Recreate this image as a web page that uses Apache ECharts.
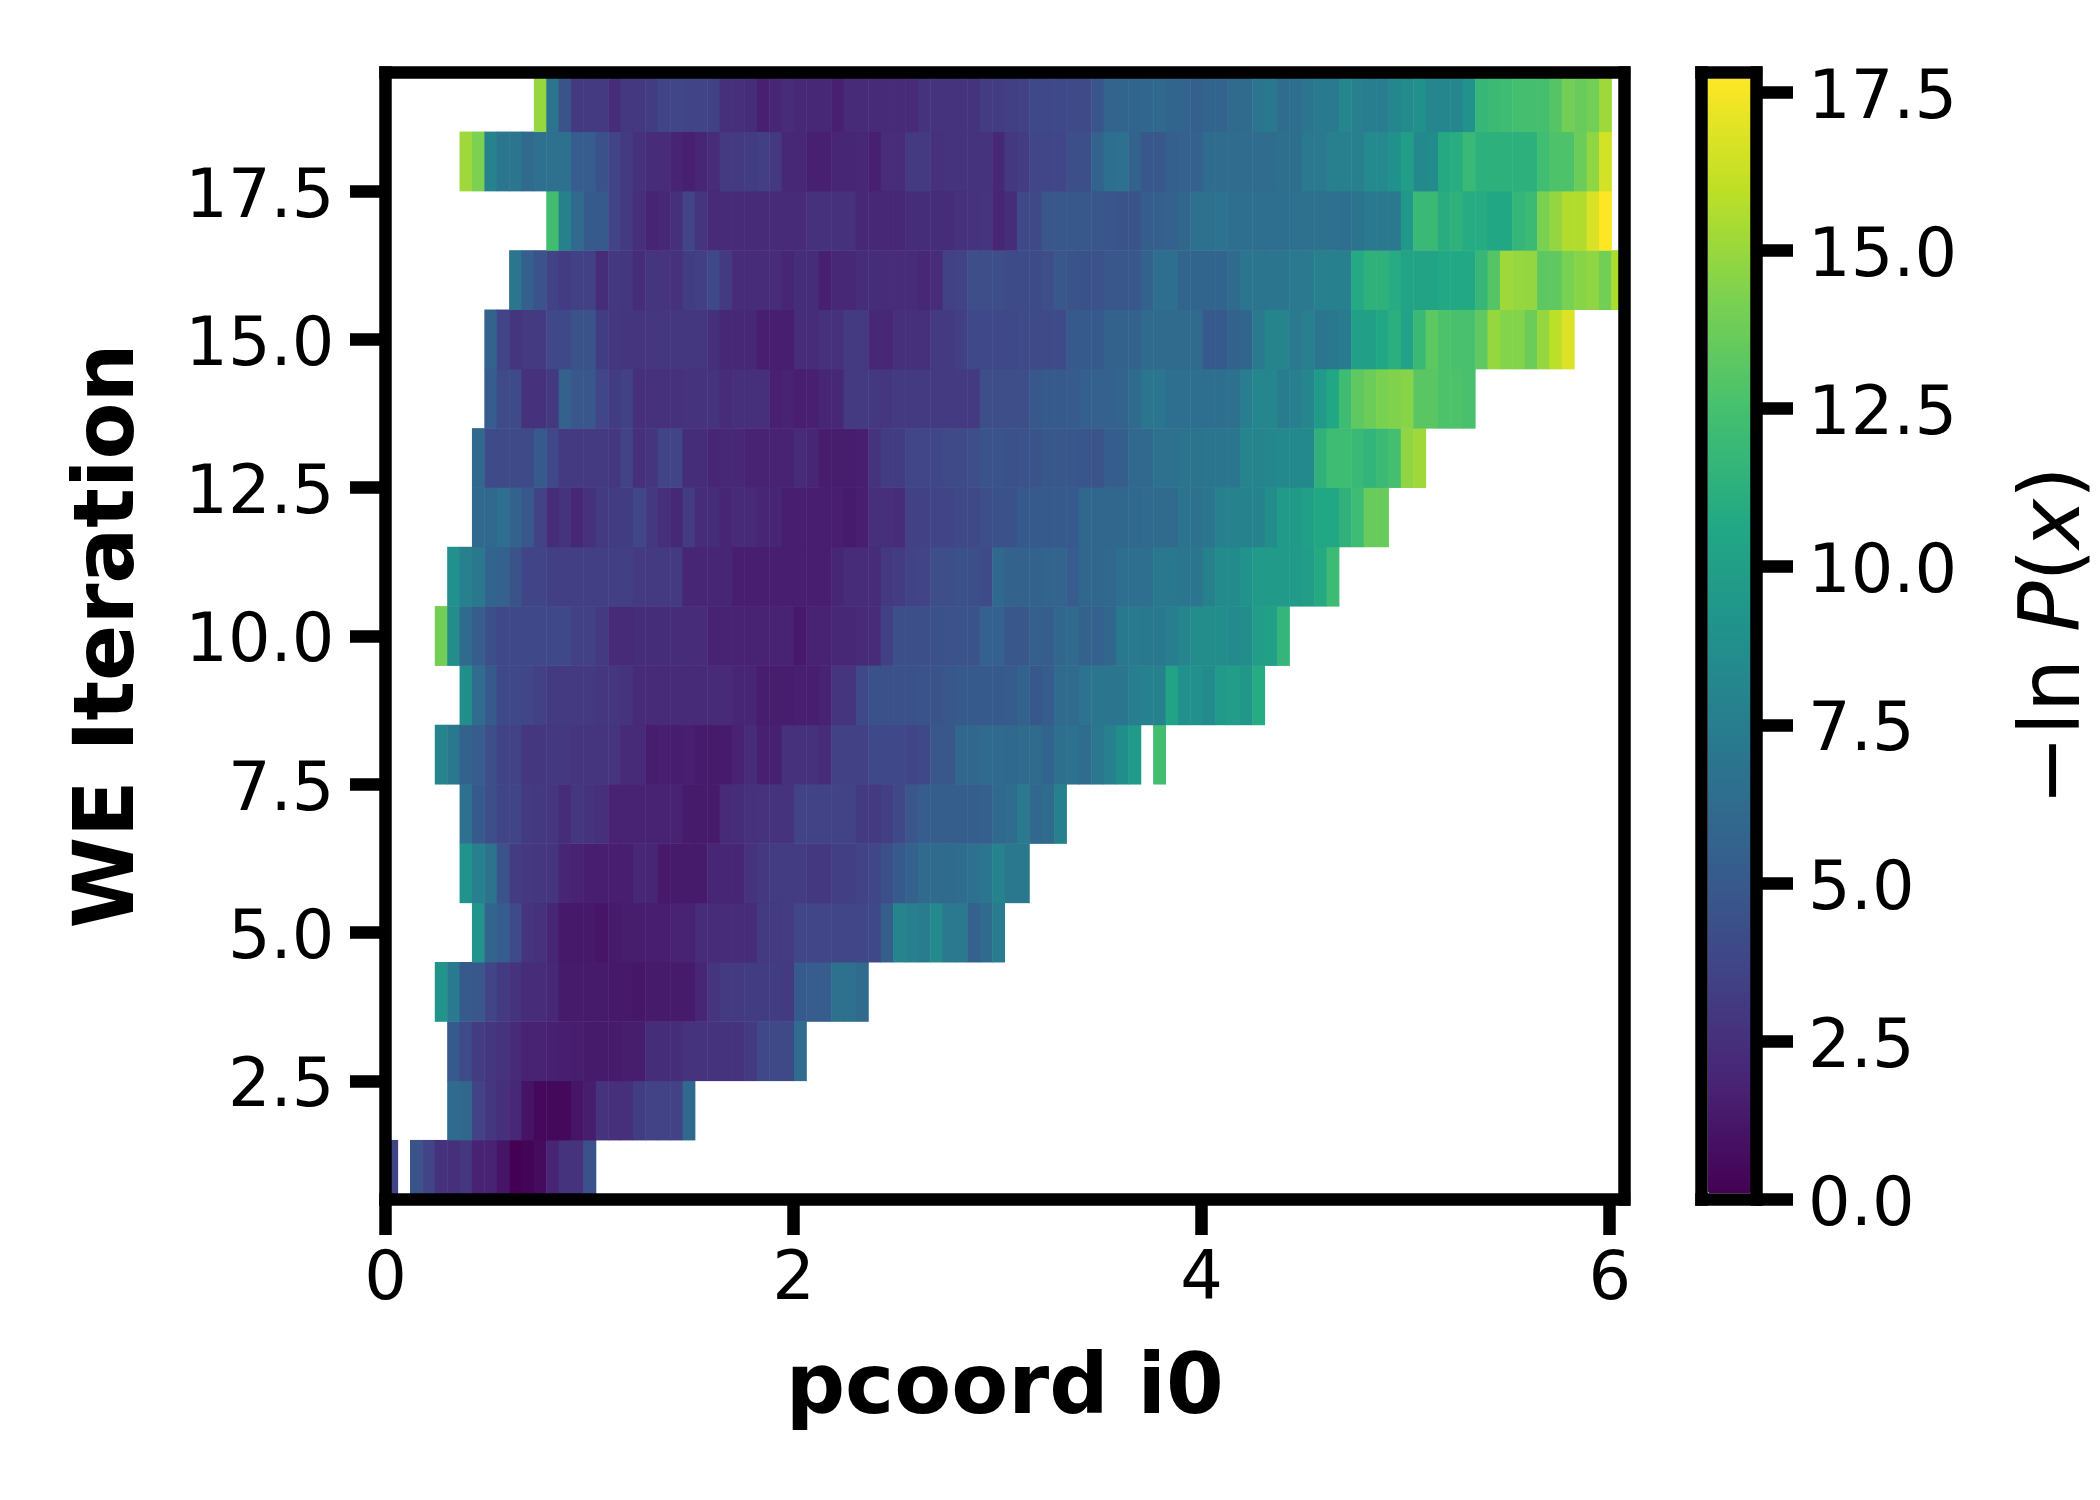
<!DOCTYPE html>
<html>
<head>
<meta charset="utf-8">
<style>html,body{margin:0;padding:0;background:#fff}#c{width:2100px;height:1500px}</style>
<script src="https://cdn.jsdelivr.net/npm/echarts@6/dist/echarts.min.js"></script>
</head>
<body>
<div id="c"></div>
<script>
const xTicks = [0, 2, 4, 6];
const yTicks = [2.5, 5, 7.5, 10, 12.5, 15, 17.5];
const cbTicks = [0, 2.5, 5, 7.5, 10, 12.5, 15, 17.5];
const xMax = 6.07, yMin = 0.5, yMax = 19.5, vMax = 17.81;
const binCount = 100;
const iterations = [1,2,3,4,5,6,7,8,9,10,11,12,13,14,15,16,17,18,19];
const rowStarts = [0,5,5,4,7,6,6,4,6,4,5,7,7,8,8,10,13,6,12];
const row01 = [3.6,null,4.6,3.6,2.5,2.4,2.8,1.7,1.7,1,0,0.2,0.5,1.8,2.6,2.6,4.4];
const row02 = [6.1,5.9,3.5,2.8,2.4,2,0.9,0.4,0.4,0.4,1,1.4,2.6,2.4,2.4,3.2,3.5,3.5,3.5,6];
const row03 = [5,4,3.1,2.8,2.6,2.1,1.7,1.7,1.6,1.5,1.4,1.3,1.3,1.3,1.4,1.4,2.3,2.3,2.3,2.6,2.6,2.6,2.6,2.6,3,3.9,3.9,3.9,6.3];
const row04 = [9.2,7.3,5,4.8,3.6,3,2.6,2.2,2.2,2,1.3,1.3,1.3,1.3,1.2,1.2,1.1,1.3,1.3,1.3,1.3,1.9,2.7,3,3,3.2,3.2,3.2,3,5,5.2,5.2,6.6,6.6,6.2];
const row05 = [9.2,5.8,5.2,4,2.7,2.5,1.9,1.2,1.2,1.2,1,1.3,1.4,1.4,1.5,1.5,1.7,1.7,2.2,2.2,2.2,2.2,2.2,3,3,3.1,3.7,3.7,3.7,3.7,3.7,3.7,3.8,5.3,8,7.6,7.4,8.4,7.2,7.2,5.5,6.2,7.4];
const row06 = [9,7.7,6.8,4.6,3.1,2.9,2.8,2.7,1.9,1.7,1.5,1.5,1.5,1.5,2,1.9,1.2,1.3,1.3,1.3,1.9,1.9,1.9,2.6,2.9,3.1,3.1,3.1,2.9,2.9,3.3,3.3,3.5,3.7,4.3,5,5.5,6.2,6.2,6.2,6.3,6.6,6.9,7.9,7.1,7.1];
const row07 = [6.6,5,4.3,3.6,3.6,3,2.9,2.8,2.3,2.8,2.6,2.4,1.7,1.7,1.7,1.7,1.7,1.7,1.3,1.3,1.3,2.1,2.3,2.5,2.6,2.6,2.6,3.5,3.5,3.5,3.5,3.5,3,3,3.3,3.9,4.8,5.2,5.3,5.3,5.3,5.3,5.4,6,6.3,7.2,6,6.1,7.8];
const row08 = [8,7.1,5.6,5.2,4.2,3.5,3.5,2.8,2.8,2.9,2.9,2.7,2.7,2.7,2.7,2.1,2.1,1.4,1.5,1.4,1.5,1.3,1.3,1.3,1.7,2.2,1.6,1.6,2.5,2.5,2.5,2.2,3.4,3.4,3.4,3.8,3.8,3.8,3.6,3.8,4.8,4.8,5.9,5.9,6.2,6.1,6,6.1,6.1,5.8,6.5,6.6,6.3,7.1,7.6,8.7,9.6,null,12.4];
const row09 = [8.7,6.3,5,3.8,3.8,3.7,3.4,3,3,3,3,2.8,2.8,2.6,2.1,2.1,2.1,2.1,2.1,2.1,2.1,2.1,1.9,1.9,1.4,1.4,1.4,1.5,1.5,1.7,2.7,2.7,3.8,4.4,4.4,4.4,4.4,4.6,4.6,4.8,5,5,5,5,5.1,5.6,4.9,5.2,6.2,6.2,6.7,6.9,7,7,7.5,7.7,7.8,10.2,8.9,8.8,8.5,9.6,9.8,9.4,10.9];
const row10 = [14,8.6,6.2,5.3,4.3,3.8,3.8,3.8,3.8,3.8,3.8,3.4,3.4,3,2.1,2.1,2.3,2.3,2.3,2.3,2.2,2.2,1.7,1.7,1.7,1.7,1.7,1.7,1.7,1.2,1.7,1.7,2,2,2.1,2.2,3.3,4.3,4.3,4.3,4.4,4.5,4.5,4.6,5.5,5.5,4.8,4.8,5.4,5.3,5.9,6.2,5.6,5.5,5.9,7.1,7.3,7.1,7.1,7.5,8,8.6,8.6,8.6,8.4,8.6,9.8,10,11.7];
const row11 = [8.8,7.6,7.1,5.8,5.5,4.6,3.6,3.6,3.3,3.3,3.3,3.3,3.3,3.3,3.3,3,3,3,3,1.9,1.9,1.9,1.9,1.5,1.5,1.5,1.5,1.5,1.5,1.5,1.5,1.9,2.2,2.2,2.2,2.9,3.1,3.5,3.6,4.2,4.2,4.4,4.3,4,6,5.6,5.6,5.6,5.7,5.7,5.2,5.9,5.9,6,6.4,6.4,6.4,7.1,7.1,7,7,7.8,8.5,8.5,9,9.6,9.6,9.6,9.6,9.8,10.8,12.1];
const row12 = [6,6,6.4,5.6,4.9,3.5,2.3,2.6,2,2.5,3,3.2,3.2,3.7,2.9,2.4,2,3.1,2.3,2.3,1.9,2.1,2.1,1.9,1.9,1.5,1.5,1.5,1.5,1.5,1.3,1.5,2.4,2.4,2.2,3.4,3.4,3.6,3.6,3.9,3.9,4.2,4.4,4.4,5,5,5,5,5,5.9,5.9,5.9,5.9,6,6.1,6.1,6.1,6.8,6.6,7,7.7,7.9,7.9,7.9,8.6,9.6,9.7,10.1,10.6,10.6,11.4,12.2,13.7,13.7];
const row13 = [6,4,4,4,4,5,3.8,3,3,3,3,2.8,3.5,2.4,2.7,3.6,3.6,2.3,2.3,1.9,2,2,1.7,1.7,1.7,1.7,2.1,1.9,1.4,1.4,1.4,1.5,2.6,3.2,3.2,3.7,3.7,3.7,4,4,4.2,4.6,4.6,4.4,4.5,4.6,4.9,4.8,4.8,4.7,4.6,5.2,5.3,6,6,6.6,6.6,6.8,6.8,7,7,7,8,8,8.2,8.3,8.3,8.3,11.4,12.2,12.2,11.9,11.6,12,12.5,14.8,15.2];
const row14 = [5.2,4,4,2.5,2.5,2.9,5.6,4.8,4.8,3.7,3.2,3.4,2.4,2.5,2.5,2.5,2.6,2.6,2.6,2.2,2.4,2.4,2.4,1.6,1.7,1.5,1.6,1.9,2,3,3,2.9,2.8,3,3,3,3,3,3,3,4.2,4.2,4.2,4.2,4.9,5,5,5.1,5.4,5.5,5.5,5.7,6.1,7,7,6.4,6.4,6.4,6.4,6.4,6.6,7.5,8.2,8.2,7.4,7.6,8.2,9.6,10.6,12.2,13.4,13.8,14.2,14.4,14.6,13.2,13.2,12.8,12.8,12.6];
const row15 = [5.6,3.6,2.7,3,3,3.8,3.8,4.6,4.6,3.2,2.8,2.7,2.7,2.8,2.8,2.8,2.8,2.8,2.4,2,2,2,1.5,1.5,1.5,2.3,2.2,2.5,2.5,3,3,2,2,2.4,2.4,2.4,3,3,3.3,3.8,3.8,3.8,3.8,4,4,4,4,5,5,5,5.6,5.6,5.6,6.2,6.2,6.2,6.2,6.2,5,5,5.6,5.8,7.2,8,8,7.2,7.6,7,7.1,7.4,10,10,10.6,11.2,10.2,11.9,13.3,12.8,12.6,12.6,13.4,15,14.5,14.5,13.8,15,16,16.9];
const row16 = [7,5.4,4.5,3.5,3.1,3.4,3.4,2.3,2.9,2.8,2.3,2.7,2.7,2.5,3.2,3.3,3.8,3,2.2,2.2,2.2,2.2,1.9,2.3,2.3,1.6,2,2,2.3,2.3,2.2,2.2,2.2,2,2.2,3.4,3.5,4.2,4.2,4.2,4,4.1,4.1,4.2,4.8,4.6,4.4,4.5,4.8,4.8,4.8,5.6,6.4,6.4,5.8,5.8,5.8,5.8,6.2,6.9,6.9,6.9,6.9,7.2,7.2,7.6,7.7,7.6,10.8,11.4,11.4,10.9,10.3,10.3,10.3,10.7,10.7,10.7,11.8,13,15.2,15,14.9,13.3,13.4,14.2,14.6,14.8,14,15.6];
const row17 = [12.3,7.8,6.2,5,5,3.6,3,2.4,1.8,2,2.4,3.6,2.7,2.1,2.1,2.1,2.1,2.1,2.1,2.1,2.1,2.5,2.5,2.5,2.5,2,2,2,2,2.3,2.3,2.3,2.3,2.5,2.6,2.7,1.9,2.3,3.8,3.9,4.8,4.8,4.9,4.9,4.8,4.7,4.6,4.6,5.3,5.4,5.5,5.9,6.6,6.6,6.7,6.4,6.4,6.4,6.4,6.4,6.6,6.6,6.6,6.6,6.4,6.8,7.2,7.2,7.2,9.5,11.9,11.9,11,11.4,10.9,10.9,10.6,10.6,11.7,12,14.2,14.9,15.7,15.7,16.8,17.8];
const row18 = [15.2,14.3,7.9,7,7,6.2,6.6,6.6,6.6,5.2,5.2,4.4,3.6,3,2.5,2.2,2.2,1.8,1.6,1.9,2.2,3,3,3.2,3.3,2.9,2,2,1.6,1.6,1.9,1.9,2,1.6,2.2,2.2,3,3,2.5,2.6,2.6,2.6,2.6,2,2.9,3.1,3.7,3.7,3.7,4.2,4.3,5.6,6.4,6.6,5.6,4.9,4.9,5.4,5.5,5.5,6.3,6.3,6.3,6.3,6.3,6.3,6.5,6.5,7.2,7.2,7.6,7.6,7.6,8.4,8.4,8.9,9.8,8.3,8.5,10.8,11,11.9,11.3,11.3,11.3,11.3,11.3,12.3,12.8,12.8,13.8,14.8,16.6];
const row19 = [15,6.8,4.6,3,3,3,2.3,2.9,2.9,3.2,3.6,3.7,3.6,3.6,3.4,2.4,2.4,2.3,1.6,1.9,2.2,2,2,2,1.6,2.1,2.1,2.1,2.1,2.1,2.1,2.6,2.6,2.6,2.6,2.6,3.1,3.2,3.3,3.4,3.8,3.8,3.8,4,4,4.7,5.7,5.7,5.8,5.9,6,5.8,5.7,5.4,5.7,5.7,6.1,6.2,7,7.1,6.3,6.4,6.9,7.3,7.3,8.2,7.6,7.5,7.5,8.2,8.5,8.9,8.2,8.2,8.2,9,11.8,12,12.2,12.5,12.5,12.5,13,14,13.7,14,15.2];
const rows = [row01,row02,row03,row04,row05,row06,row07,row08,row09,row10,row11,row12,row13,row14,row15,row16,row17,row18,row19];
const viridis = ['#440154','#482475','#414487','#355f8d','#2a788e','#21918c','#22a884','#44bf70','#7ad151','#bddf26','#fde725'];

const bins = Array.from({length: binCount}, (_, k) => String(k));
const cells = [];
rows.forEach((vals, r) => vals.forEach((v, i) => {
  if (v !== null) cells.push([rowStarts[r] + i, r, v]);
}));

const FONT = '"DejaVu Sans"';
const LW = 12.5;
const spine = {show: true, onZero: false, lineStyle: {color: '#000', width: LW, cap: 'square'}};
const tick = (vals, len) => ({show: true, length: len, customValues: vals, lineStyle: {color: '#000', width: LW}});
const label = (vals, margin, fmt, extra) => ({show: true, margin, customValues: vals, formatter: fmt, color: '#000', fontFamily: FONT, fontSize: 67, ...extra});
const sideLabel = {verticalAlign: 'top', lineHeight: 16};
const one = v => Number(v).toFixed(1);
const plain = v => String(Number(v));
const hiddenBits = {axisTick: {show: false}, axisLabel: {show: false}, splitLine: {show: false}};

const option = {
  animation: false,
  backgroundColor: '#fff',
  grid: [
    {left: 385.5, top: 72.5, width: 1238.5, height: 1127},
    {left: 1701.5, top: 72.5, width: 56, height: 1127}
  ],
  xAxis: [
    {type: 'category', gridIndex: 0, position: 'top', data: bins, axisLine: spine, ...hiddenBits, z: 10},
    {type: 'value', gridIndex: 0, position: 'bottom', min: 0, max: xMax, axisLine: spine, splitLine: {show: false},
      axisTick: tick(xTicks, 35.5), axisLabel: label(xTicks, 49, plain, {}),
      name: 'pcoord i0', nameLocation: 'middle', nameGap: 150,
      nameTextStyle: {color: '#000', fontFamily: FONT, fontWeight: 'bold', fontSize: 83}, z: 10},
    {type: 'value', gridIndex: 1, position: 'bottom', min: 0, max: 1, axisLine: spine, ...hiddenBits, z: 10},
    {type: 'value', gridIndex: 1, position: 'top', min: 0, max: 1, axisLine: spine, ...hiddenBits, z: 10}
  ],
  yAxis: [
    {type: 'category', gridIndex: 0, position: 'right', data: iterations.map(String), axisLine: spine, ...hiddenBits, z: 10},
    {type: 'value', gridIndex: 0, position: 'left', min: yMin, max: yMax, axisLine: spine, splitLine: {show: false},
      axisTick: tick(yTicks, 35.5), axisLabel: label(yTicks, 51, one, sideLabel),
      name: 'WE Iteration', nameLocation: 'middle', nameGap: 233, nameRotate: 90,
      nameTextStyle: {color: '#000', fontFamily: FONT, fontWeight: 'bold', fontSize: 83}, z: 10},
    {type: 'value', gridIndex: 1, position: 'right', min: 0, max: vMax, axisLine: spine, splitLine: {show: false},
      axisTick: tick(cbTicks, 37), axisLabel: label(cbTicks, 52, one, sideLabel),
      name: '{n|\u2212ln }{i|P}{n|(}{i|x}{n|)}', nameLocation: 'middle', nameGap: 259, nameRotate: 90,
      nameTextStyle: {color: '#000', fontFamily: FONT, fontSize: 84,
        rich: {n: {fontFamily: FONT, fontSize: 84, color: '#000'}, i: {fontFamily: FONT, fontStyle: 'italic', fontSize: 84, color: '#000'}}}, z: 10},
    {type: 'value', gridIndex: 1, position: 'left', min: 0, max: vMax, axisLine: spine, ...hiddenBits, z: 10}
  ],
  visualMap: {
    type: 'continuous', show: true, seriesIndex: 0, min: 0, max: vMax, calculable: false, hoverLink: false,
    left: 1707.75, top: 78.75, itemWidth: 43.5, itemHeight: 1114.5, padding: 0, text: null, showLabel: false,
    inRange: {color: viridis}
  },
  series: [{
    type: 'heatmap', xAxisIndex: 0, yAxisIndex: 0, data: cells, silent: true, progressive: 0,
    itemStyle: {borderWidth: 0}, emphasis: {disabled: true}
  }]
};
const chart = echarts.init(document.getElementById('c'), null, {renderer: 'canvas', width: 2100, height: 1500});
chart.setOption(option);
</script>
</body>
</html>
